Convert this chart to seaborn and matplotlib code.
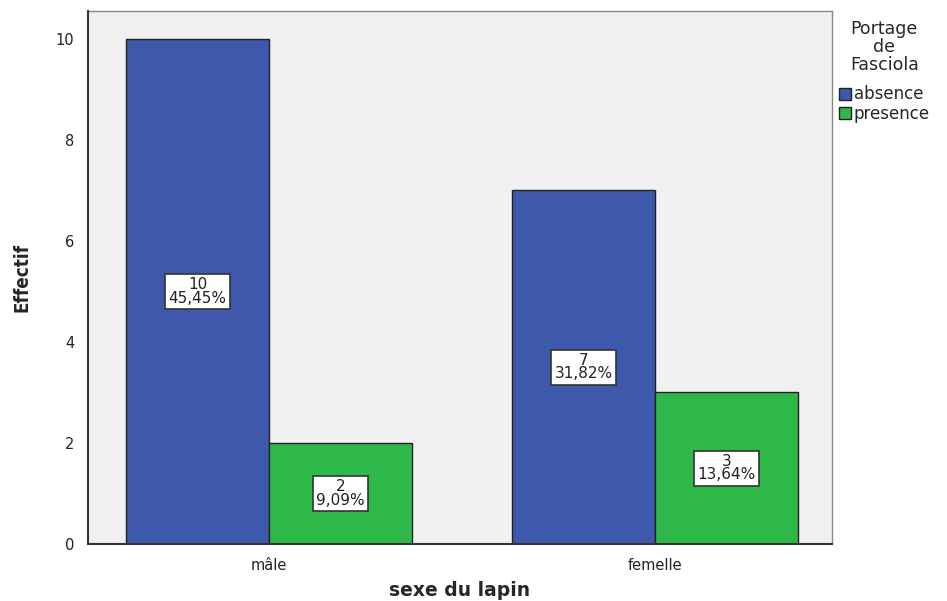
"""
Bar chart: Portage de Fasciola par sexe du lapin.
"""

import matplotlib
matplotlib.use('Agg')
import matplotlib.pyplot as plt
import seaborn as sns
import pandas as pd

sexes = ['mâle', 'femelle']
portage = ['absence', 'presence']
effectif_absence = [10, 7]
effectif_presence = [2, 3]
pourcent_absence = ['45,45%', '31,82%']
pourcent_presence = ['9,09%', '13,64%']

df = pd.DataFrame({
    'sexe': sexes * 2,
    'portage': [portage[0]] * 2 + [portage[1]] * 2,
    'effectif': effectif_absence + effectif_presence,
    'pct': pourcent_absence + pourcent_presence,
})

sns.set_style('white')
plt.rcParams['font.family'] = ['DejaVu Sans']

fig = plt.figure(figsize=(9.47, 6.01), dpi=100)
ax = fig.add_axes([0.0929, 0.0948, 0.7857, 0.8869])
ax.set_facecolor('#f0f0f0')

palette = {'absence': '#3e58ac', 'presence': '#2fb84a'}
sns.barplot(data=df, x='sexe', y='effectif', hue='portage', order=sexes,
            hue_order=portage, palette=palette, width=0.74, saturation=1,
            edgecolor='#222222', linewidth=1, ax=ax)

# value / percent boxes in the middle of each bar
for container, grp in zip(ax.containers, portage):
    sub = df[df['portage'] == grp].set_index('sexe').loc[sexes]
    for bar, (_, row) in zip(container, sub.iterrows()):
        cx = bar.get_x() + bar.get_width() / 2
        cy = bar.get_height() / 2
        ax.text(cx, cy, f"{row['effectif']}\n{row['pct']}", ha='center',
                va='center', fontsize=11, linespacing=0.85, color='#222222',
                bbox=dict(boxstyle='square,pad=0.22', fc='white',
                          ec='#333333', lw=1.2))

ax.set_xlim(-0.469, 1.459)
ax.set_ylim(0, 10.55)
ax.set_yticks([0, 2, 4, 6, 8, 10])
ax.tick_params(axis='both', direction='out', length=7, width=1.2,
               color='#333333', labelsize=10.5, labelcolor='#222222', pad=3)
for side in ['top', 'right']:
    ax.spines[side].set_visible(False)
for side in ['left', 'bottom']:
    ax.spines[side].set_color('#333333')
    ax.spines[side].set_linewidth(1.5)
ax.set_xlabel('sexe du lapin', fontsize=13.5, fontweight='bold')
ax.xaxis.set_label_coords(0.5, -0.088)
ax.xaxis.label.set_va('center')
ax.set_ylabel('Effectif', fontsize=13.5, fontweight='bold',
              fontstretch='condensed')
ax.yaxis.set_label_coords(-0.088, 0.5)
ax.yaxis.label.set_va('center')
ax.yaxis.set_label_coords(-0.089, 0.5)

# frame on right/top as thin grey lines
ax.plot([1, 1], [0, 1], transform=ax.transAxes, color='#888888', lw=1,
        clip_on=False)
ax.plot([0, 1], [1, 1], transform=ax.transAxes, color='#888888', lw=1,
        clip_on=False)

leg = ax.legend(title='Portage\nde\nFasciola', loc='upper left',
                bbox_to_anchor=(1.0, 0.995), frameon=False, fontsize=12,
                title_fontsize=12.5, handlelength=0.75, handleheight=0.75,
                handletextpad=0.15, labelspacing=0.1, borderaxespad=0.3,
                borderpad=0.1)
leg.get_title().set_multialignment('center')
leg.get_title().set_linespacing(1.0)
leg._legend_box.align = 'center'
leg._legend_box.sep = 8
for h in leg.legend_handles:
    h.set_edgecolor('#222222')

fig.savefig('out.png', dpi=100)
